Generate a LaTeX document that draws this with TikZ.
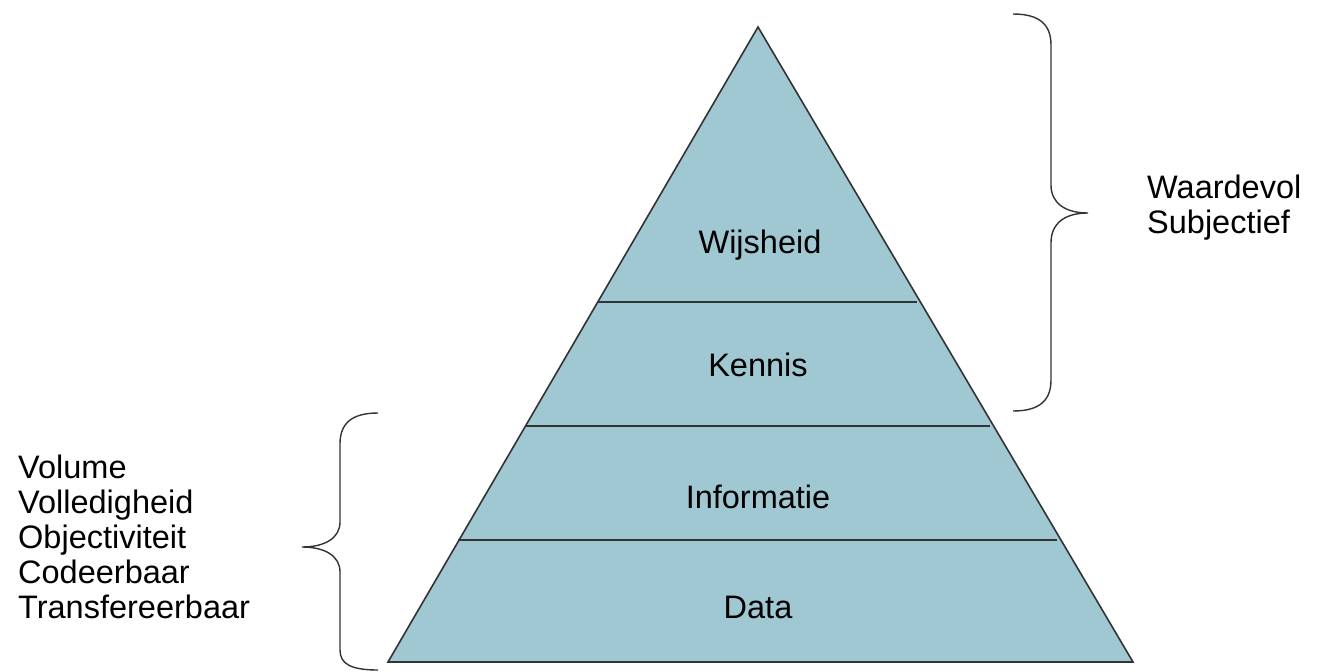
\documentclass[tikz,border=0pt]{standalone}
\usepackage{fontspec}
\setmainfont{Liberation Sans}
\usetikzlibrary{calc}
\definecolor{laag}{RGB}{160,200,210}
\tikzset{
  label/.style={font=\fontsize{32.5}{35}\selectfont,inner sep=0pt},
  accolade/.style={line width=1.4pt,draw=black!80}
}

\begin{document}
\begin{tikzpicture}[x=1pt,y=-1pt]
				\useasboundingbox (0,0) rectangle (1323,672);
				% Piramide
				\draw [fill=laag,line width=1.6pt,draw=black!80] (758,27) -- (1133,662) -- (388,662) -- cycle;
				\draw [line width=1.2pt,draw=black!80] (598,302) -- (917,302);
				\draw [line width=1.2pt,draw=black!80] (525,426) -- (990,426);
				\draw [line width=1.2pt,draw=black!80] (458,540) -- (1057,540);
				\node [label] (wijsheid) at (760,245) {Wijsheid};
				\node [label] (kennis) at (758,365) {Kennis};
				\node [label] (informatie) at (758,497) {Informatie};
				\node [label] (data) at (758,607) {Data};
				% Accolades
				\draw [accolade] (1013,14) .. controls (1040,14) and (1051,25) .. (1051,45) -- (1051,185)
					.. controls (1051,203) and (1065,213) .. (1088,213)
					.. controls (1065,213) and (1051,223) .. (1051,243) -- (1051,380)
					.. controls (1051,400) and (1040,411) .. (1013,411);
				\draw [accolade] (378,413) .. controls (351,413) and (340,424) .. (340,444) -- (340,522)
					.. controls (340,538) and (325,547) .. (302,547)
					.. controls (325,547) and (340,556) .. (340,572) -- (340,650)
					.. controls (340,664) and (351,670) .. (378,670);
				\node [label,anchor=west,align=left] (boven) at (1147,208) {Waardevol\\Subjectief};
				\node [label,anchor=west,align=left] (onder) at (18,537) {Volume\\Volledigheid\\Objectiviteit\\Codeerbaar\\Transfereerbaar};
\end{tikzpicture}
\end{document}
